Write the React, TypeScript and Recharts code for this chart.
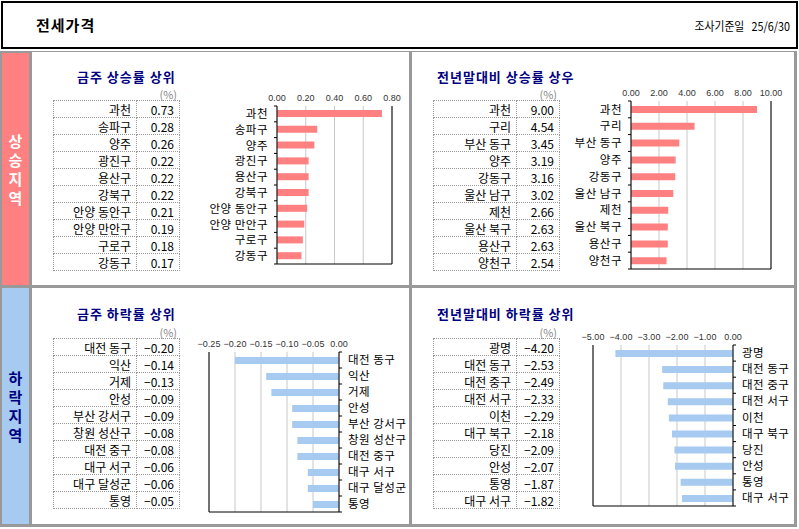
import { BarChart, Bar, XAxis, YAxis, CartesianGrid } from 'recharts'

const FONT = '"Noto Sans CJK KR", "Noto Sans", sans-serif'
const RED = '#FF8080'
const BLUE = '#A6CAF0'
const NAVY = '#000080'
const FRAME = '#999999'

// 금주 상승률 상위
const weeklyUpNames = ['과천', '송파구', '양주', '광진구', '용산구', '강북구', '안양 동안구', '안양 만안구', '구로구', '강동구']
const weeklyUpValues = [0.73, 0.28, 0.26, 0.22, 0.22, 0.22, 0.21, 0.19, 0.18, 0.17]
const weeklyUpTicks = [0, 0.2, 0.4, 0.6, 0.8]

// 전년말대비 상승률 상위
const ytdUpNames = ['과천', '구리', '부산 동구', '양주', '강동구', '울산 남구', '제천', '울산 북구', '용산구', '양천구']
const ytdUpValues = [9.0, 4.54, 3.45, 3.19, 3.16, 3.02, 2.66, 2.63, 2.63, 2.54]
const ytdUpTicks = [0, 2, 4, 6, 8, 10]

// 금주 하락률 상위
const weeklyDownNames = ['대전 동구', '익산', '거제', '안성', '부산 강서구', '창원 성산구', '대전 중구', '대구 서구', '대구 달성군', '통영']
const weeklyDownValues = [-0.2, -0.14, -0.13, -0.09, -0.09, -0.08, -0.08, -0.06, -0.06, -0.05]
const weeklyDownTicks = [-0.25, -0.2, -0.15, -0.1, -0.05, 0]

// 전년말대비 하락률 상위
const ytdDownNames = ['광명', '대전 동구', '대전 중구', '대전 서구', '이천', '대구 북구', '당진', '안성', '통영', '대구 서구']
const ytdDownValues = [-4.2, -2.53, -2.49, -2.33, -2.29, -2.18, -2.09, -2.07, -1.87, -1.82]
const ytdDownTicks = [-5, -4, -3, -2, -1, 0]

type Plot = { x: number; y: number; w: number; h: number }

const fmt = (v: number) => v.toFixed(2).replace('-', '−')

function RankChart({ names, values, ticks, color, side, plot }: {
  names: string[]
  values: number[]
  ticks: number[]
  color: string
  side: 'left' | 'right'
  plot: Plot
}) {
  const data = names.map((name, i) => ({ name, value: values[i] }))
  const labelsLeft = side === 'left'
  const catW = 80
  const mL = labelsLeft ? 0 : 16
  const mR = labelsLeft ? 14 : 4
  const axisH = 20
  const width = mL + catW + 1 + plot.w + mR
  const height = axisH + plot.h + 1 + 2
  const left = labelsLeft ? plot.x - catW - mL : plot.x - 1 - mL
  const band = plot.h / names.length
  const domain: [number, number] = [ticks[0], ticks[ticks.length - 1]]
  const dir = labelsLeft ? -1 : 1

  const renderCat = (p: any) => {
    const ax = p.x - dir * 9
    return (
      <g>
        <line x1={ax} x2={ax + dir * 3} y1={p.y - band / 2} y2={p.y - band / 2} stroke="#000" />
        {p.index === names.length - 1 && (
          <line x1={ax} x2={ax + dir * 3} y1={p.y + band / 2} y2={p.y + band / 2} stroke="#000" />
        )}
        <text x={p.x} y={p.y} dy="0.36em" textAnchor={labelsLeft ? 'end' : 'start'}
          fontSize={11.5} fontFamily={FONT} letterSpacing={0.5} fill="#000">{p.payload.value}</text>
      </g>
    )
  }

  return (
    <div style={{ position: 'absolute', left, top: plot.y - axisH }}>
      <BarChart width={width} height={height} data={data} layout="vertical"
        margin={{ top: 0, right: mR, left: mL, bottom: 2 }}>
        <CartesianGrid horizontal={false} stroke="#c8c8c8" />
        <XAxis type="number" orientation="top" domain={domain} ticks={ticks} height={axisH}
          axisLine={false} tickLine={false} tickSize={0} tickMargin={5} interval={0}
          tickFormatter={fmt} tick={{ fontSize: 9, fill: '#333', fontFamily: 'Liberation Sans' }} />
        <XAxis xAxisId="edge" type="number" orientation="bottom" domain={domain} height={1}
          tick={false} tickLine={false} axisLine={{ stroke: '#000' }} />
        <YAxis type="category" dataKey="name" orientation={side} width={catW} interval={0}
          tickSize={3} tickMargin={6} tickLine={false} axisLine={{ stroke: '#000' }} tick={renderCat} />
        <YAxis yAxisId="edge" type="category" dataKey="name" orientation={labelsLeft ? 'right' : 'left'}
          width={1} tick={false} tickLine={false} axisLine={{ stroke: '#000' }} />
        <Bar dataKey="value" fill={color} barSize={7} isAnimationActive={false} />
      </BarChart>
    </div>
  )
}

const cell = {
  border: '1px dotted #999',
  padding: '1px 5px 0 4px',
  textAlign: 'right' as const,
  lineHeight: '15px',
  height: 16,
  boxSizing: 'border-box' as const,
  whiteSpace: 'nowrap' as const,
  verticalAlign: 'bottom' as const,
}

function RankTable({ names, values, left, top }: { names: string[]; values: number[]; left: number; top: number }) {
  return (
    <>
      <div style={{ position: 'absolute', left: left + 100, top: top - 11, width: 24, textAlign: 'right', fontSize: 11, color: '#888', lineHeight: '11px' }}>(%)</div>
      <table style={{ position: 'absolute', left, top, borderCollapse: 'collapse', tableLayout: 'fixed', width: 126, fontSize: 12, fontFamily: FONT, color: '#000' }}>
        <colgroup>
          <col style={{ width: 83 }} />
          <col style={{ width: 43 }} />
        </colgroup>
        <tbody>
          {names.map((n, i) => (
            <tr key={n + i} style={{ height: 17 }}>
              <td style={cell}>{n}</td>
              <td style={cell}>{fmt(values[i])}</td>
            </tr>
          ))}
        </tbody>
      </table>
    </>
  )
}

function Title({ text, left, cy }: { text: string; left: number; cy: number }) {
  return (
    <div style={{ position: 'absolute', left, top: cy - 9, fontSize: 13, fontWeight: 'bold', color: NAVY, lineHeight: '18px', letterSpacing: 1, whiteSpace: 'nowrap' }}>{text}</div>
  )
}

function SideLabel({ text, top, height, bg, fg }: { text: string; top: number; height: number; bg: string; fg: string }) {
  return (
    <div style={{ position: 'absolute', left: 2, top, width: 27, height, background: bg, display: 'flex', flexDirection: 'column', alignItems: 'center', justifyContent: 'center' }}>
      {text.split('').map((c, i) => (
        <div key={i} style={{ color: fg, fontWeight: 'bold', fontSize: 15, lineHeight: '19px' }}>{c}</div>
      ))}
    </div>
  )
}

export default function App() {
  return (
    <div style={{ position: 'absolute', left: 0, top: 0, width: 799, height: 529, background: '#fff', fontFamily: FONT, overflow: 'hidden' }}>
      <div style={{ position: 'absolute', left: 1, top: 1, width: 797, height: 48, border: '2px solid #000', boxSizing: 'border-box' }}>
        <div style={{ position: 'absolute', left: 33, top: 12, fontSize: 15, fontWeight: 'bold', lineHeight: '20px', letterSpacing: 1 }}>전세가격</div>
        <div style={{ position: 'absolute', right: 6, top: 14, fontSize: 12, lineHeight: '18px', transform: 'scaleX(0.9)', transformOrigin: 'right center', whiteSpace: 'nowrap' }}>조사기준일&nbsp;&nbsp;&nbsp;25/6/30</div>
      </div>

      <div style={{ position: 'absolute', left: 0, top: 51, width: 797, height: 476, background: FRAME }} />
      <SideLabel text="상승지역" top={53} height={232} bg={RED} fg="#fff" />
      <SideLabel text="하락지역" top={288} height={236} bg={BLUE} fg={NAVY} />
      <div style={{ position: 'absolute', left: 32, top: 52, width: 377, height: 233, background: '#fff' }} />
      <div style={{ position: 'absolute', left: 412, top: 52, width: 382, height: 233, background: '#fff' }} />
      <div style={{ position: 'absolute', left: 32, top: 288, width: 377, height: 236, background: '#fff' }} />
      <div style={{ position: 'absolute', left: 412, top: 288, width: 382, height: 236, background: '#fff' }} />

      <Title text="금주 상승률 상위" left={77} cy={77} />
      <RankTable names={weeklyUpNames} values={weeklyUpValues} left={53} top={100} />
      <RankChart names={weeklyUpNames} values={weeklyUpValues} ticks={weeklyUpTicks} color={RED} side="left"
        plot={{ x: 277, y: 106, w: 115, h: 158 }} />

      <Title text="전년말대비 상승률 상우" left={437} cy={77} />
      <RankTable names={ytdUpNames} values={ytdUpValues} left={433} top={100} />
      <RankChart names={ytdUpNames} values={ytdUpValues} ticks={ytdUpTicks} color={RED} side="left"
        plot={{ x: 631, y: 101, w: 140, h: 168 }} />

      <Title text="금주 하락률 상위" left={77} cy={314} />
      <RankTable names={weeklyDownNames} values={weeklyDownValues} left={53} top={338} />
      <RankChart names={weeklyDownNames} values={weeklyDownValues} ticks={weeklyDownTicks} color={BLUE} side="right"
        plot={{ x: 209, y: 352, w: 130, h: 160 }} />

      <Title text="전년말대비 하락률 상위" left={437} cy={314} />
      <RankTable names={ytdDownNames} values={ytdDownValues} left={433} top={338} />
      <RankChart names={ytdDownNames} values={ytdDownValues} ticks={ytdDownTicks} color={BLUE} side="right"
        plot={{ x: 593, y: 345, w: 140, h: 161 }} />
    </div>
  )
}
